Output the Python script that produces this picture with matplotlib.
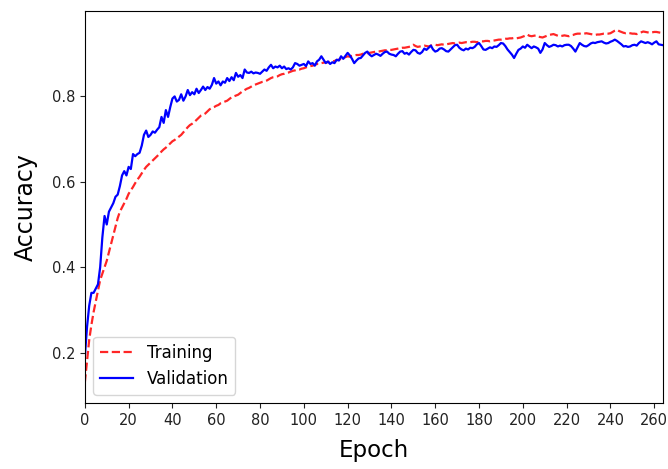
import numpy as np
import matplotlib
matplotlib.use('Agg')
import matplotlib.pyplot as plt

# accuracy per epoch
train_acc = [
    0.13, 0.18, 0.23, 0.265, 0.295, 0.32, 0.345, 0.37, 0.385, 0.40,
    0.415, 0.435, 0.455, 0.475, 0.495, 0.515, 0.53, 0.54, 0.55, 0.56,
    0.572, 0.58, 0.588, 0.597, 0.605, 0.612, 0.62, 0.628, 0.635, 0.64,
    0.645, 0.65, 0.655, 0.66, 0.665, 0.671, 0.676, 0.68, 0.685, 0.69,
    0.695, 0.698, 0.702, 0.706, 0.71, 0.716, 0.722, 0.728, 0.733, 0.736,
    0.74, 0.745, 0.75, 0.755, 0.757, 0.76, 0.765, 0.77, 0.773, 0.775,
    0.778, 0.78, 0.784, 0.786, 0.788, 0.79, 0.794, 0.798, 0.80, 0.802,
    0.804, 0.808, 0.812, 0.815, 0.818, 0.82, 0.823, 0.826, 0.828, 0.83,
    0.832, 0.834, 0.835, 0.837, 0.84, 0.843, 0.845, 0.846, 0.847, 0.85,
    0.852, 0.853, 0.855, 0.856, 0.858, 0.86, 0.861, 0.863, 0.863, 0.865,
    0.866, 0.868, 0.87, 0.871, 0.872, 0.874, 0.876, 0.876, 0.878, 0.879,
    0.88, 0.88, 0.882, 0.882, 0.883, 0.885, 0.886, 0.888, 0.89, 0.892,
    0.894, 0.893, 0.895, 0.896, 0.897, 0.897, 0.898, 0.90, 0.90, 0.901,
    0.902, 0.903, 0.904, 0.905, 0.905, 0.906, 0.907, 0.908, 0.908, 0.909,
    0.909, 0.91, 0.911, 0.912, 0.913, 0.914, 0.914, 0.915, 0.916, 0.918,
    0.921, 0.918, 0.916, 0.917, 0.918, 0.919, 0.918, 0.917, 0.919, 0.92,
    0.921, 0.92, 0.921, 0.922, 0.921, 0.922, 0.923, 0.924, 0.925, 0.924,
    0.925, 0.926, 0.925, 0.926, 0.927, 0.926, 0.927, 0.928, 0.928, 0.927,
    0.928, 0.929, 0.929, 0.93, 0.93, 0.929, 0.93, 0.931, 0.932, 0.933,
    0.933, 0.934, 0.935, 0.935, 0.936, 0.936, 0.937, 0.936, 0.937, 0.938,
    0.94, 0.942, 0.945, 0.942, 0.941, 0.942, 0.943, 0.94, 0.939, 0.938,
    0.94, 0.942, 0.944, 0.945, 0.946, 0.944, 0.942, 0.941, 0.942, 0.943,
    0.942, 0.941, 0.943, 0.944, 0.946, 0.947, 0.947, 0.946, 0.947, 0.948,
    0.947, 0.946, 0.945, 0.944, 0.945, 0.945, 0.946, 0.947, 0.947, 0.947,
    0.948, 0.951, 0.954, 0.956, 0.953, 0.951, 0.949, 0.948, 0.949, 0.948,
    0.947, 0.947, 0.946, 0.948, 0.95, 0.952, 0.951, 0.95, 0.949, 0.95,
    0.951, 0.951, 0.95, 0.949, 0.949,
]

val_acc = [
    0.19, 0.26, 0.31, 0.34, 0.34, 0.35, 0.36, 0.40, 0.47, 0.52,
    0.50, 0.53, 0.54, 0.55, 0.565, 0.57, 0.59, 0.615, 0.625, 0.615,
    0.635, 0.63, 0.665, 0.66, 0.665, 0.668, 0.685, 0.71, 0.72, 0.705,
    0.71, 0.718, 0.715, 0.722, 0.728, 0.752, 0.738, 0.768, 0.752, 0.775,
    0.795, 0.80, 0.788, 0.792, 0.805, 0.79, 0.80, 0.815, 0.803, 0.81,
    0.805, 0.818, 0.808, 0.815, 0.823, 0.815, 0.822, 0.818, 0.827, 0.843,
    0.83, 0.835, 0.826, 0.835, 0.832, 0.843, 0.836, 0.845, 0.838, 0.855,
    0.846, 0.85, 0.843, 0.863, 0.856, 0.855, 0.858, 0.854, 0.856, 0.855,
    0.853, 0.858, 0.863, 0.86, 0.868, 0.874, 0.866, 0.87, 0.868, 0.872,
    0.866, 0.87, 0.864, 0.866, 0.863, 0.868, 0.878, 0.876, 0.872, 0.874,
    0.876, 0.871, 0.882, 0.876, 0.878, 0.872, 0.882, 0.886, 0.894, 0.886,
    0.878, 0.882, 0.876, 0.88, 0.878, 0.886, 0.884, 0.894, 0.888, 0.895,
    0.902, 0.896, 0.888, 0.878, 0.884, 0.889, 0.89, 0.896, 0.902, 0.905,
    0.898, 0.894, 0.897, 0.90, 0.898, 0.895, 0.90, 0.904, 0.905, 0.90,
    0.898, 0.897, 0.894, 0.90, 0.905, 0.906, 0.90, 0.902, 0.898, 0.904,
    0.909, 0.908, 0.902, 0.90, 0.904, 0.912, 0.909, 0.914, 0.919, 0.91,
    0.905, 0.907, 0.912, 0.913, 0.91, 0.906, 0.905, 0.91, 0.915, 0.92,
    0.921, 0.914, 0.91, 0.908, 0.912, 0.91, 0.914, 0.913, 0.916, 0.922,
    0.925, 0.918, 0.91, 0.909, 0.912, 0.915, 0.913, 0.917, 0.916, 0.92,
    0.925, 0.924, 0.918, 0.91, 0.904, 0.898, 0.89, 0.90, 0.909, 0.912,
    0.917, 0.914, 0.921, 0.917, 0.913, 0.917, 0.915, 0.912, 0.902, 0.91,
    0.925, 0.92, 0.916, 0.918, 0.921, 0.92, 0.917, 0.919, 0.917, 0.92,
    0.921, 0.921, 0.918, 0.912, 0.905, 0.915, 0.925, 0.921, 0.918, 0.917,
    0.92, 0.924, 0.926, 0.925, 0.927, 0.928, 0.929, 0.926, 0.924, 0.925,
    0.928, 0.93, 0.933, 0.93, 0.926, 0.922, 0.917, 0.918, 0.916, 0.917,
    0.92, 0.921, 0.919, 0.925, 0.929, 0.927, 0.925, 0.927, 0.925, 0.922,
    0.926, 0.929, 0.922, 0.921, 0.92,
]

epochs = np.arange(len(train_acc))
x_ticks = list(range(0, 261, 20))

fig = plt.figure(figsize=(6.68, 4.69), dpi=100)
ax = fig.add_axes([0.127, 0.1407, 0.8655, 0.8358])

ax.plot(epochs, train_acc, 'r--', alpha=0.85, linewidth=1.6, label='Training')
ax.plot(epochs, val_acc, 'b-', linewidth=1.6, label='Validation')

ax.set_xlim(0, 264)
ax.set_ylim(0.082, 1.0)
ax.set_xticks(x_ticks)
ax.set_yticks([0.2, 0.4, 0.6, 0.8])
ax.tick_params(labelsize=10.5, colors='#222222')
ax.set_xlabel('Epoch', fontsize=16.5, labelpad=8)
ax.set_ylabel('Accuracy', fontsize=17, labelpad=10)
ax.legend(loc='lower left', fontsize=12)

fig.savefig('out.png', dpi=100)
